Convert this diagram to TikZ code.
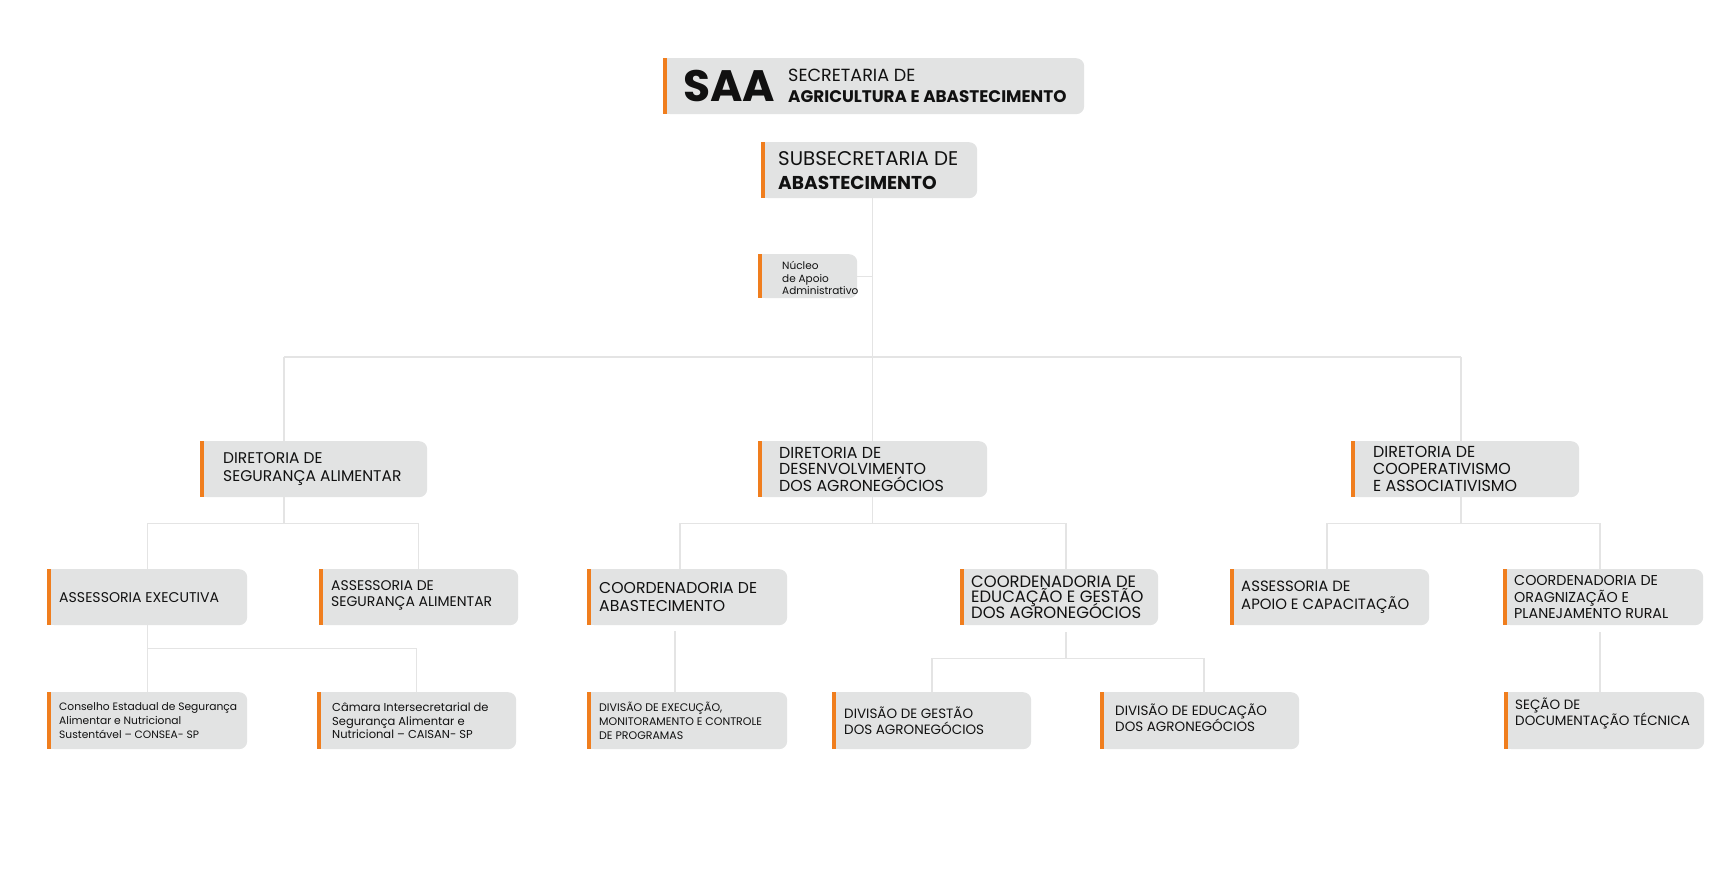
\documentclass[tikz,border=0pt]{standalone}
\usepackage{fontspec}
\setmainfont{Poppins}

\definecolor{panel}{HTML}{E2E3E3}
\definecolor{accent}{HTML}{F07E1E}
\definecolor{wire}{HTML}{E4E4E4}
\definecolor{ink}{HTML}{111111}
\newcommand{\setsize}[2]{\fontsize{#1}{#2}\selectfont}
\AtBeginDocument{\lineskiplimit=-20pt}

\tikzset{
  unit/.style={fill=panel, rounded corners=8pt, minimum height=56pt, inner sep=0pt, anchor=north west},
  caption/.style={anchor=west, align=left, inner sep=0pt, text=ink},
  link/.style={draw=wire, line width=1.3pt},
}

\begin{document}
\begin{tikzpicture}[x=1pt,y=-1pt]
\useasboundingbox (0,0) rectangle (1717,890);
% top
\node[unit, minimum width=421pt,
  label={[caption, xshift=20pt, font=\setsize{44}{44}\bfseries]west:SAA},
  label={[caption, xshift=125pt, font=\setsize{17.6}{21}]west:{SECRETARIA DE\\\setsize{16.8}{21}\bfseries AGRICULTURA E ABASTECIMENTO}}] (saa) at (663,58) {};
\node[unit, minimum width=216pt,
  label={[caption, xshift=17pt, font=\setsize{19.8}{24}]west:{SUBSECRETARIA DE\\\setsize{18.6}{24}\bfseries ABASTECIMENTO}}] (sub) at (761,142) {};
\node[unit, minimum width=99pt, minimum height=44pt,
  label={[caption, xshift=24pt, yshift=-2pt, font=\setsize{10.5}{12.5}]west:{Núcleo\\de Apoio\\Administrativo}}] (nucleo) at (758,254) {};
% diretorias
\node[unit, minimum width=227pt,
  label={[caption, xshift=23pt, font=\setsize{15.5}{18}]west:{DIRETORIA DE\\SEGURANÇA ALIMENTAR}}] (dirseg) at (200,441) {};
\node[unit, minimum width=229pt,
  label={[caption, xshift=21pt, font=\setsize{15.9}{16.7}]west:{DIRETORIA DE\\DESENVOLVIMENTO\\DOS AGRONEGÓCIOS}}] (dirdes) at (758,441) {};
\node[unit, minimum width=228pt,
  label={[caption, xshift=22pt, font=\setsize{15.9}{17}]west:{DIRETORIA DE\\COOPERATIVISMO\\E ASSOCIATIVISMO}}] (dircoop) at (1351,441) {};
% third row
\node[unit, minimum width=200pt,
  label={[caption, xshift=12pt, font=\setsize{14.1}{16.4}]west:{ASSESSORIA EXECUTIVA}}] (assexe) at (47,569) {};
\node[unit, minimum width=199pt,
  label={[caption, xshift=12pt, yshift=2pt, font=\setsize{14}{16.4}]west:{ASSESSORIA DE\\SEGURANÇA ALIMENTAR}}] (assseg) at (319,569) {};
\node[unit, minimum width=200pt,
  label={[caption, xshift=12pt, font=\setsize{15.7}{17.8}]west:{COORDENADORIA DE\\ABASTECIMENTO}}] (coordab) at (587,569) {};
\node[unit, minimum width=198pt,
  label={[caption, xshift=11pt, font=\setsize{16.4}{15.3}]west:{COORDENADORIA DE\\EDUCAÇÃO E GESTÃO\\DOS AGRONEGÓCIOS}}] (coordedu) at (960,569) {};
\node[unit, minimum width=199pt,
  label={[caption, xshift=11pt, font=\setsize{14.9}{17.5}]west:{ASSESSORIA DE\\APOIO E CAPACITAÇÃO}}] (assapoio) at (1230,569) {};
\node[unit, minimum width=200pt,
  label={[caption, xshift=11pt, font=\setsize{14.3}{16.4}]west:{COORDENADORIA DE\\ORAGNIZAÇÃO E\\PLANEJAMENTO RURAL}}] (coordorg) at (1503,569) {};
% fourth row
\node[unit, minimum width=200pt, minimum height=57pt,
  label={[caption, xshift=12pt, font=\setsize{10.7}{13.7}]west:{Conselho Estadual de Segurança\\Alimentar e Nutricional\\Sustentável – CONSEA- SP}}] (conselho) at (47,692) {};
\node[unit, minimum width=199pt, minimum height=57pt,
  label={[caption, xshift=15pt, font=\setsize{11.5}{13.7}]west:{Câmara Intersecretarial de\\Segurança Alimentar e\\Nutricional – CAISAN- SP}}] (camara) at (317,692) {};
\node[unit, minimum width=200pt, minimum height=57pt,
  label={[caption, xshift=12pt, font=\setsize{11}{14}]west:{DIVISÃO DE EXECUÇÃO,\\MONITORAMENTO E CONTROLE\\DE PROGRAMAS}}] (divexec) at (587,692) {};
\node[unit, minimum width=199pt, minimum height=57pt,
  label={[caption, xshift=12pt, font=\setsize{13.5}{16.4}]west:{DIVISÃO DE GESTÃO\\DOS AGRONEGÓCIOS}}] (divgest) at (832,692) {};
\node[unit, minimum width=199pt, minimum height=57pt,
  label={[caption, xshift=15pt, yshift=3pt, font=\setsize{13.5}{16.4}]west:{DIVISÃO DE EDUCAÇÃO\\DOS AGRONEGÓCIOS}}] (diveduc) at (1100,692) {};
\node[unit, minimum width=200pt, minimum height=57pt,
  label={[caption, xshift=11pt, yshift=7pt, font=\setsize{13.5}{16.4}]west:{SEÇÃO DE\\DOCUMENTAÇÃO TÉCNICA}}] (secao) at (1504,692) {};

% orange edge on every box
\foreach \u in {saa,sub,nucleo,dirseg,dirdes,dircoop,assexe,assseg,coordab,coordedu,assapoio,coordorg,conselho,camara,divexec,divgest,diveduc,secao} {
  \fill[panel] (\u.north west) rectangle ([xshift=9pt]\u.south west);
  \fill[accent] (\u.north west) rectangle ([xshift=3.5pt]\u.south west);
}

% connectors
\coordinate (mainL) at (284,357);
\coordinate (mainR) at (1461,357);
\draw[link] (dirdes.north |- sub.south) -- (dirdes.north);
\draw[link] (nucleo.east) -- (nucleo.east -| dirdes.north);
\draw[link] (mainL) -- (mainR);
\draw[link] (mainL) -- (mainL |- dirseg.north);
\draw[link] (mainR) -- (mainR |- dircoop.north);

\coordinate (segbus) at (284,523.5);
\draw[link] (segbus |- dirseg.south) -- (segbus);
\draw[link] (assexe.north) |- (assseg.north |- segbus) -- (assseg.north);

\coordinate (desL) at (680,523.5);
\coordinate (desR) at (1066,523.5);
\draw[link] (dirdes.south) -- (dirdes.south |- desL);
\draw[link] (desL |- coordab.north) |- (desR) -- (desR |- coordedu.north);

\coordinate (coopL) at (1327,523.5);
\coordinate (coopR) at (1600,523.5);
\draw[link] (mainR |- dircoop.south) -- (mainR |- coopL);
\draw[link] (coopL |- assapoio.north) |- (coopR) -- (coopR |- coordorg.north);

\coordinate (exebus) at (147,648.3);
\draw[link] (assexe.south) -- (conselho.north);
\draw[link] (assexe.south |- exebus) -| (camara.north);

\coordinate (abstem) at (675,631);
\draw[link] (abstem) -- (abstem |- divexec.north);

\coordinate (edustem) at (1066,632);
\coordinate (eduL) at (932,658.5);
\coordinate (eduR) at (1204,658.5);
\draw[link] (edustem) -- (edustem |- eduL);
\draw[link] (eduL |- divgest.north) |- (eduR) -- (eduR |- diveduc.north);

\coordinate (orgstem) at (1600,632);
\draw[link] (orgstem) -- (orgstem |- secao.north);
\end{tikzpicture}
\end{document}
